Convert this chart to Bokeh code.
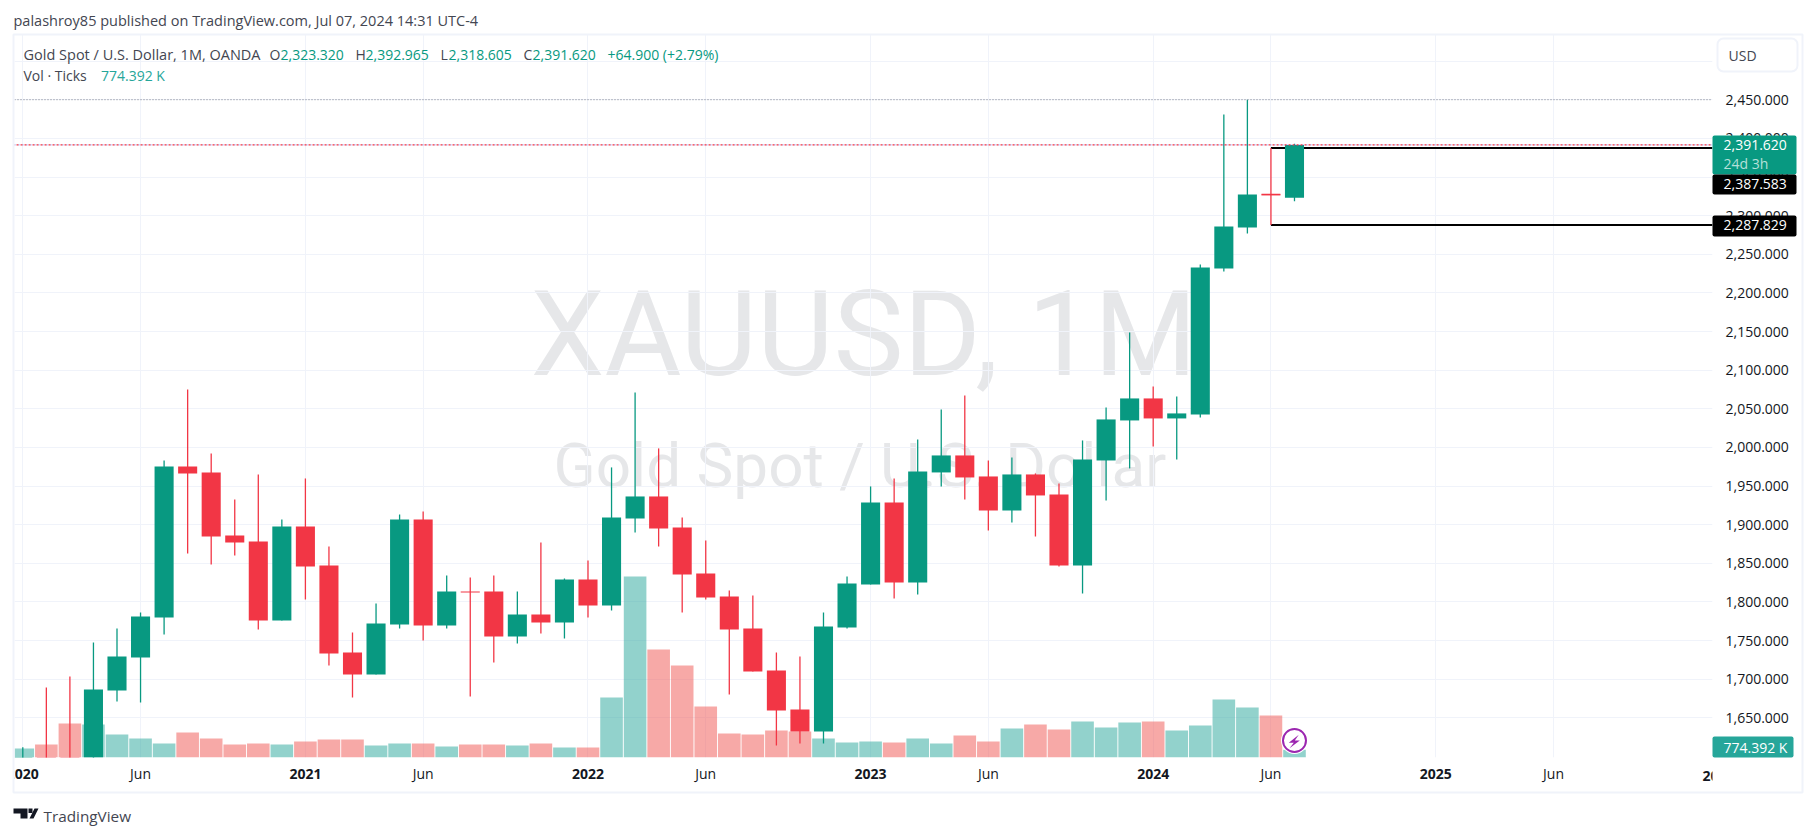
from bokeh.core.properties import value
from bokeh.embed import file_html
from bokeh.layouts import column
from bokeh.resources import INLINE
from bokeh.plotting import figure
from bokeh.models import (ColumnDataSource, FixedTicker, Grid, Label, LinearAxis, NumeralTickFormatter,
                          Range1d, Span)

# ---- data (monthly XAUUSD, Jan 2020 .. Jul 2024) ----
opens = [1517.0,1589.0,1585.0,1577.0,1685.4,1728.1,1779.9,1975.4,1967.6,1886.0,1878.3,1776.0,
         1897.7,1847.2,1734.6,1706.1,1770.8,1906.8,1769.5,1813.6,1813.6,1755.3,1783.8,1773.4,
         1829.1,1795.4,1908.1,1936.5,1896.4,1836.9,1807.1,1765.7,1711.3,1660.8,1632.3,1767.0,
         1822.6,1928.8,1825.2,1967.6,1989.6,1962.4,1918.4,1965.0,1939.1,1847.2,1983.1,2034.9,
         2063.4,2037.5,2042.7,2231.6,2284.7,2327.4,2323.32]
highs = [1612.0,1689.3,1703.5,1747.5,1765.7,1786.4,1983.1,2075.0,1992.2,1932.6,1965.0,1906.8,
         1959.8,1871.8,1760.5,1798.0,1913.2,1917.1,1834.3,1831.7,1834.3,1813.6,1877.0,1830.4,
         1853.7,1974.1,2071.2,1998.7,1909.4,1879.6,1814.8,1808.4,1734.6,1729.4,1786.4,1832.9,
         1949.5,1959.8,2010.3,2049.1,2067.3,1983.1,1987.0,1966.3,1953.4,2009.0,2051.7,2148.8,
         2078.9,2066.0,2236.8,2431.0,2450.1,2387.583,2392.965]
lows = [1517.0,1548.0,1451.0,1567.0,1671.2,1669.9,1757.9,1862.8,1848.5,1860.2,1764.4,1776.0,
        1803.2,1717.8,1676.3,1706.1,1765.7,1750.1,1765.7,1677.6,1721.7,1746.2,1759.2,1752.7,
        1779.9,1788.9,1889.9,1871.8,1786.4,1803.2,1680.2,1710.0,1614.2,1616.8,1616.8,1765.7,
        1822.6,1804.5,1809.7,1949.5,1932.6,1892.5,1902.9,1884.8,1845.9,1810.9,1931.4,1972.8,
        2001.3,1984.4,2038.8,2227.7,2276.9,2287.829,2318.605]
closes = [1589.0,1585.0,1577.0,1686.7,1729.4,1781.2,1975.4,1966.3,1884.8,1877.0,1776.0,1897.7,
          1845.9,1733.3,1706.1,1772.1,1906.8,1769.5,1813.6,1812.3,1755.3,1783.8,1773.4,1829.1,
          1795.4,1909.4,1936.5,1895.1,1835.6,1805.8,1764.4,1710.0,1659.5,1632.3,1768.2,1823.9,
          1928.8,1825.2,1968.9,1989.6,1961.1,1918.4,1965.0,1937.8,1847.2,1984.4,2036.2,2063.4,
          2037.5,2044.0,2233.0,2286.0,2327.4,2326.5,2391.62]
volumes_k = [900,1300,3400,3300,2300,1900,1400,2500,1900,1300,1400,1300,
             1600,1800,1800,1200,1400,1400,1100,1300,1300,1200,1400,1000,
             1000,6000,18100,10800,9200,5100,2400,2300,2700,2600,1900,1500,
             1600,1500,1900,1400,2200,1600,2900,3300,2800,3600,3000,3500,
             3600,2700,3200,5800,5000,4200,774.392]
price_ticks = [1650,1700,1750,1800,1850,1900,1950,2000,2050,2100,2150,2200,2250,2300,2350,2400,2450]
grid_prices = price_ticks + [2500]
year_ticks = {0:"2020",12:"2021",24:"2022",36:"2023",48:"2024",60:"2025"}
month_ticks = {5:"Jun",17:"Jun",29:"Jun",41:"Jun",53:"Jun",65:"Jun"}
last_tick_index, last_tick_label = 72, "2026"
session_high = 2450.1
last_price = 2391.62
level_labels = [2387.583, 2287.829]

GREEN, RED = "#089981", "#F23645"
VGREEN, VRED = "#26a69a", "#ef5350"
INK = "#131722"
TXT = "#434651"
GRID = "#f0f3fa"
FONT = "Open Sans"
W, H = 1812, 832

idx = list(range(len(opens)))
up = [c >= o for o, c in zip(opens, closes)]
src = ColumnDataSource(dict(
    x=idx, o=opens, h=highs, l=lows, c=closes, v=volumes_k,
    top=[max(o, c) for o, c in zip(opens, closes)],
    bot=[min(o, c) for o, c in zip(opens, closes)],
    col=[GREEN if u else RED for u in up],
    vcol=[VGREEN if u else VRED for u in up],
))

X0, X1 = -0.3524, 71.75
PX = 23.55  # pixels per month on screen
p = figure(width=W, height=H, output_backend="svg", toolbar_location=None,
           x_range=Range1d(X0, X1), y_range=Range1d(1598.6, 2534.5),
           x_axis_type=None, y_axis_type=None, frame_align=False,
           min_border_left=14, min_border_right=W-1712, min_border_top=34, min_border_bottom=H-757,
           background_fill_color="white", border_fill_color="white", outline_line_color=None)
p.extra_y_ranges = {"vol": Range1d(0, 72300)}

# axes
yax = LinearAxis(ticker=FixedTicker(ticks=price_ticks), formatter=NumeralTickFormatter(format="0,0.000"),
                 major_label_text_font=FONT, major_label_text_font_size="14px", major_label_text_color=INK,
                 major_label_standoff=7, major_tick_line_color=None, minor_tick_line_color=None,
                 axis_line_color=None)
p.add_layout(yax, "right")

xax_y = LinearAxis(ticker=FixedTicker(ticks=list(year_ticks)), major_label_overrides=year_ticks,
                   major_label_text_font=FONT, major_label_text_font_size="14px", major_label_text_font_style="bold",
                   major_label_text_color=INK, major_label_standoff=5, major_tick_line_color=None,
                   minor_tick_line_color=None, axis_line_color=None)
xax_m = LinearAxis(ticker=FixedTicker(ticks=list(month_ticks)), major_label_overrides=month_ticks,
                   major_label_text_font=FONT, major_label_text_font_size="14px",
                   major_label_text_color=INK, major_label_standoff=-24, major_tick_line_color=None,
                   minor_tick_line_color=None, axis_line_color=None)
p.add_layout(xax_y, "below")
p.add_layout(xax_m, "below")

# grids
p.add_layout(Grid(dimension=1, ticker=FixedTicker(ticks=grid_prices), grid_line_color=GRID, grid_line_width=1))
p.add_layout(Grid(dimension=0, ticker=FixedTicker(ticks=list(year_ticks)+list(month_ticks)),
                  grid_line_color=GRID, grid_line_width=1))

# watermark
for txt, px, py, size in [("XAUUSD, 1M", 530, 334, "118px"), ("Gold Spot / U.S. Dollar", 553, 465, "62px")]:
    p.add_layout(Label(x=px, y=py, x_units="canvas", y_units="canvas", text=txt, text_font="Roboto",
                       text_font_size=size, text_color="#e6e7e9", text_baseline="alphabetic", level="image"))

# volume
p.vbar(x="x", top="v", bottom=0, width=0.96, source=src, fill_color="vcol", fill_alpha=0.5, line_color=None,
       y_range_name="vol")

# price levels
p.segment(x0=[53, 53], x1=[X1, X1], y0=level_labels, y1=level_labels, line_color="black", line_width=2)

# candles
p.segment(x0="x", x1="x", y0="l", y1="h", source=src, line_color="col", line_width=1.3)
p.vbar(x="x", top="top", bottom="bot", width=0.81, source=src, fill_color="col", line_color=None)
# doji bar
p.segment(x0=[52.6], x1=[53.4], y0=[opens[53]], y1=[opens[53]], line_color=RED, line_width=1.3)

# dotted lines
p.add_layout(Span(location=session_high, dimension="width", line_color="#787b86", line_dash="1 2", line_width=1))
p.segment(x0=[X0], x1=[X1], y0=[last_price], y1=[last_price], line_color="#2962ff", line_dash="1 3", line_width=1,
          line_alpha=0.7)
p.segment(x0=[X0 - 2 / PX], x1=[X1], y0=[last_price], y1=[last_price], line_color=RED, line_dash="2 2", line_width=1.2)

# lightning marker
p.scatter(x=[54], y=[1700], size=27, fill_color="white", line_color=None, y_range_name="vol")
p.scatter(x=[54], y=[1700], size=23, fill_color="white", line_color="#9c27b0", line_width=2, y_range_name="vol")

# ---- transparent full-canvas layer for everything that lies outside the plot frame ----
ov = figure(width=W, height=H, output_backend="svg", toolbar_location=None,
            x_range=Range1d(0, W), y_range=Range1d(H, 0), x_axis_type=None, y_axis_type=None, frame_align=False,
            min_border=0, min_border_left=0, min_border_right=0, min_border_top=0, min_border_bottom=0,
            background_fill_alpha=0, border_fill_alpha=0, outline_line_color=None,
            margin=(-H, 0, 0, 0))


def poly(xs, ys, color):
    ov.patch(xs, ys, fill_color=color, line_color=None)


def box(l, t, r, b, fill, line=None, lw=1, radius=0):
    ov.quad(left=[l], right=[r], top=[t], bottom=[b], fill_color=fill or "white", fill_alpha=1 if fill else 0,
            line_color=line, line_width=lw, border_radius=radius)


def text(txt, px, py, color=INK, size="14px", style="normal", align="left"):
    ov.text(x=[px], y=[py], text=[txt], text_font=value(FONT), text_font_size=value(size),
            text_font_style=style, text_color=color, text_baseline="middle", text_align=align)


# lightning glyph
poly([1298.3, 1288.3, 1293.3, 1289, 1299.3, 1294.3], [734.3, 742.3, 742.3, 747.7, 740, 740], "#9c27b0")

# time-axis end label and the clipping of both end labels
text(last_tick_label, 22.3 + last_tick_index * PX, 775, INK, style="bold", align="center")
box(1712, 762, 1800, 790, "white")
box(2, 762, 14, 790, "white")

# outer frame
box(13, 34, 1802, 792, None, line=GRID, lw=2)

# price tags
box(1712, 135, 1796, 174, GREEN, radius=2)
box(1712, 174, 1796, 194, "black", radius=2)
box(1712, 215, 1796, 236, "black", radius=2)
box(1712, 736, 1793, 757, VGREEN, radius=2)
text("2,391.620", 1723, 144.5, "white")
text("24d 3h", 1723, 163, "#b5e0d9")
text("2,387.583", 1723, 183.5, "white")
text("2,287.829", 1723, 224.5, "white")
text("774.392 K", 1723, 746.5, "white")

# currency button
box(1717, 38, 1797, 71, "white", line=GRID, lw=2, radius=6)
text("USD", 1728, 54.5, TXT)

# header
text("palashroy85 published on TradingView.com, Jul 07, 2024 14:31 UTC-4", 13, 20, TXT, size="14.5px")
text("Gold Spot / U.S. Dollar, 1M, OANDA", 23, 54, TXT, size="14.5px")
for t, x, c in [("O", 269, TXT), ("2,323.320", 280, GREEN), ("H", 355, TXT), ("2,392.965", 365, GREEN),
                ("L", 440, TXT), ("2,318.605", 448, GREEN), ("C", 523, TXT), ("2,391.620", 532, GREEN),
                ("+64.900 (+2.79%)", 607, GREEN)]:
    text(t, x, 54, c)
text("Vol · Ticks", 23, 75, TXT)
text("774.392 K", 100.5, 75, VGREEN)

# footer logo
poly([13, 27, 27, 20, 20, 13], [808, 808, 818, 818, 813, 813], "#131722")
poly([38, 34, 29, 33], [808, 808, 818, 818], "#131722")
poly([28, 32, 32, 28], [808, 808, 812.5, 812.5], "#131722")
text("TradingView", 43, 815, TXT, size="15.3px")

open("out.html", "w").write(file_html(column(p, ov), INLINE))
